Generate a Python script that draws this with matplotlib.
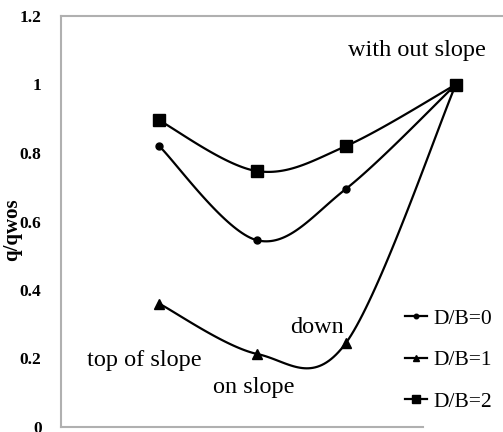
import numpy as np
import matplotlib.pyplot as plt

# --------------------------
# data
# --------------------------
positions = [1.0, 2.0, 2.9, 4.02]      # top of slope, on slope, down, with out slope
db0 = [0.82, 0.545, 0.695, 1.0]
db1 = [0.36, 0.213, 0.245, 1.0]
db2 = [0.895, 0.747, 0.82, 1.0]
series_labels = ["D/B=0", "D/B=1", "D/B=2"]
yticks = [0, 0.2, 0.4, 0.6, 0.8, 1, 1.2]
ytick_labels = ["0", "0.2", "0.4", "0.6", "0.8", "1", "1.2"]

XMIN, XMAX = 0.0, 4.5
YMIN, YMAX = 0.0, 1.2


def smooth(xs, ys, n=40):
    """Excel-like smoothed line (Catmull-Rom in screen-normalised space)"""
    px = (np.asarray(xs) - XMIN) / (XMAX - XMIN) * 4.42
    py = (np.asarray(ys) - YMIN) / (YMAX - YMIN) * 4.11
    pts = np.column_stack([px, py])
    pts = np.vstack([pts[0], pts, pts[-1]])
    out = []
    for i in range(1, len(pts) - 2):
        p0, p1, p2, p3 = pts[i - 1], pts[i], pts[i + 1], pts[i + 2]
        t = np.linspace(0, 1, n)[:, None]
        c = 0.5 * ((2 * p1) + (-p0 + p2) * t + (2 * p0 - 5 * p1 + 4 * p2 - p3) * t ** 2
                   + (-p0 + 3 * p1 - 3 * p2 + p3) * t ** 3)
        out.append(c)
    c = np.vstack(out)
    return c[:, 0] / 4.42 * (XMAX - XMIN) + XMIN, c[:, 1] / 4.11 * (YMAX - YMIN) + YMIN


plt.rcParams['font.family'] = ['Liberation Serif', 'DejaVu Serif']
fig = plt.figure(figsize=(5.03, 4.32), dpi=100)
ax = fig.add_axes([61 / 503, 5 / 432, 442 / 503, 411 / 432])

styles = [("o", 5, db0), ("^", 7, db1), ("s", 8, db2)]
for (mk, ms, vals), lab in zip(styles, series_labels):
    sx, sy = smooth(positions, vals)
    ax.plot(sx, sy, color="black", lw=1.6)
    ax.plot(positions, vals, marker=mk, ms=ms, ls="none", color="black")
    ax.plot([], [], color="black", lw=1.6, marker=mk, ms=ms * 0.65, label=lab)

ax.text(3.62, 1.10, "with out slope", ha="center", va="center", fontsize=17.5)
ax.text(0.85, 0.195, "top of slope", ha="center", va="center", fontsize=17.5)
ax.text(1.96, 0.114, "on slope", ha="center", va="center", fontsize=17.5)
ax.text(2.61, 0.29, "down", ha="center", va="center", fontsize=17.5)

leg = ax.legend(loc="upper left", bbox_to_anchor=(0.735, 0.335), frameon=False,
                fontsize=15.5, handlelength=1.0, handletextpad=0.3, labelspacing=1.0)

ax.set_xlim(XMIN, XMAX)
ax.set_ylim(YMIN, YMAX)
ax.set_xticks([])
ax.set_yticks(yticks)
ax.set_yticklabels(ytick_labels, fontweight="bold", fontsize=12.5)
ax.tick_params(axis="y", length=0, pad=14)
ax.set_ylabel("q/qwos", fontweight="bold", fontsize=15)
ax.yaxis.set_label_coords(-0.088, 0.48)

ax.spines["right"].set_visible(False)
for s in ["left", "top", "bottom"]:
    ax.spines[s].set_color("#b0b0b0")
    ax.spines[s].set_linewidth(1.5)
ax.spines["bottom"].set_bounds(XMIN, 3.69)

fig.savefig("out.png", dpi=100)
